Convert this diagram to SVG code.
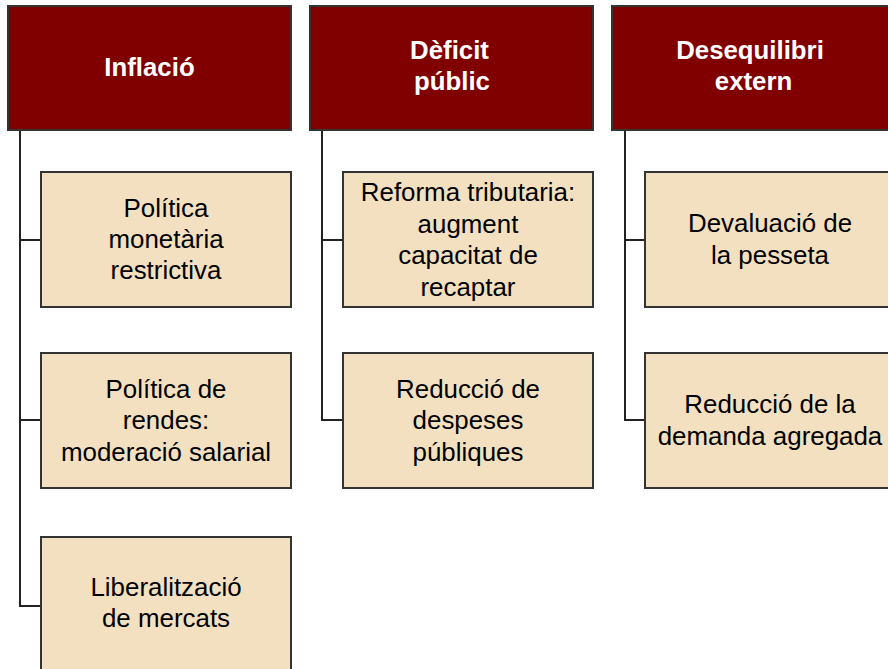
<svg xmlns="http://www.w3.org/2000/svg" width="888" height="669" viewBox="0 0 888 669">
<style>
.h{fill:#800000;stroke:#333;stroke-width:2}
.c{fill:#F3E0C0;stroke:#333;stroke-width:2}
.ht{font-family:"Liberation Sans",Arial,sans-serif;font-size:25.8px;font-weight:bold;fill:#fff;text-anchor:middle}
.ct{font-family:"Liberation Sans",Arial,sans-serif;font-size:25.9px;fill:#000;text-anchor:middle}
.l{fill:none;stroke:#222;stroke-width:2}
</style>
<rect width="888" height="669" fill="#fff"/>
<g id="connectors">
<path class="l" d="M20,130V606H41M20,240H41M20,420H41"/>
<path class="l" d="M322,130V420H343M322,240H343"/>
<path class="l" d="M625,130V420H645M625,240H645"/>
</g>
<g id="h1"><rect class="h" x="8" y="6" width="283" height="124"/><text class="ht" x="149.5" y="76">Inflació</text></g>
<g id="h2"><rect class="h" x="310" y="6" width="283" height="124"/><text class="ht" x="449.5" y="59">Dèficit</text><text class="ht" x="452" y="90">públic</text></g>
<g id="h3"><rect class="h" x="612" y="6" width="283" height="124"/><text class="ht" x="750" y="59">Desequilibri</text><text class="ht" x="753.5" y="90">extern</text></g>
<g id="c1"><rect class="c" x="41" y="172" width="250" height="135"/><text class="ct" x="166" y="216.5">Política</text><text class="ct" x="166" y="248">monetària</text><text class="ct" x="166" y="279">restrictiva</text></g>
<g id="c2"><rect class="c" x="41" y="353" width="250" height="135"/><text class="ct" x="166" y="398">Política de</text><text class="ct" x="166" y="429">rendes:</text><text class="ct" x="166" y="461">moderació salarial</text></g>
<g id="c3"><rect class="c" x="41" y="537" width="250" height="140"/><text class="ct" x="166" y="596">Liberalització</text><text class="ct" x="166" y="627">de mercats</text></g>
<g id="c4"><rect class="c" x="343" y="172" width="250" height="135"/><text class="ct" x="468" y="201">Reforma tributaria:</text><text class="ct" x="468" y="232.5">augment</text><text class="ct" x="468" y="264">capacitat de</text><text class="ct" x="468" y="295.5">recaptar</text></g>
<g id="c5"><rect class="c" x="343" y="353" width="250" height="135"/><text class="ct" x="468" y="398">Reducció de</text><text class="ct" x="468" y="429">despeses</text><text class="ct" x="468" y="461">públiques</text></g>
<g id="c6"><rect class="c" x="645" y="172" width="250" height="135"/><text class="ct" x="770" y="232">Devaluació de</text><text class="ct" x="770" y="263.5">la pesseta</text></g>
<g id="c7"><rect class="c" x="645" y="353" width="250" height="135"/><text class="ct" x="770" y="413">Reducció de la</text><text class="ct" x="770" y="445">demanda agregada</text></g>
</svg>
